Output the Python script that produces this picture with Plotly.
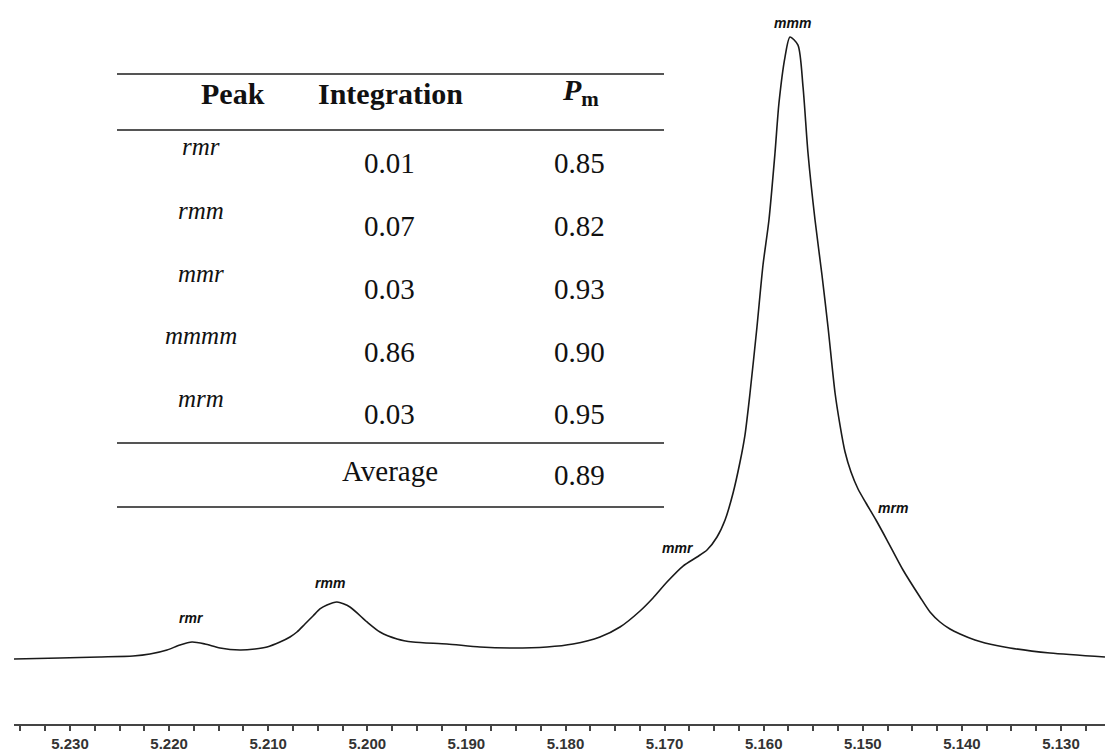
import plotly.graph_objects as go

# ---------------- data ----------------
ppm = [5.23575, 5.23101, 5.22697, 5.22364, 5.22193, 5.22021, 5.21890, 5.21769,
       5.21638, 5.21486, 5.21285, 5.21133, 5.21012, 5.20881, 5.20780, 5.20710,
       5.20629, 5.20548, 5.20478, 5.20407, 5.20306, 5.20175, 5.20003, 5.19872,
       5.19700, 5.19539, 5.19196, 5.18863, 5.18530, 5.18187, 5.17924, 5.17652,
       5.17450, 5.17248, 5.17117, 5.16976, 5.16814, 5.16673, 5.16572, 5.16471,
       5.16390, 5.16309, 5.16239, 5.16189, 5.16138, 5.16068, 5.16007, 5.15947,
       5.15886, 5.15846, 5.15785, 5.15735, 5.15654, 5.15603, 5.15553, 5.15482,
       5.15412, 5.15351, 5.15280, 5.15230, 5.15179, 5.15119, 5.15048, 5.14968,
       5.14867, 5.14756, 5.14594, 5.14423, 5.14322, 5.14221, 5.14120, 5.14019,
       5.13868, 5.13767, 5.13515, 5.13111, 5.12556]
intensity = [0.00, 0.16, 0.32, 0.48, 0.80, 1.45, 2.25, 2.73,
             2.41, 1.77, 1.45, 1.61, 1.93, 2.73, 3.54, 4.34,
             5.63, 6.91, 8.04, 8.68, 9.16, 8.36, 5.95, 4.34,
             3.22, 2.73, 2.41, 1.93, 1.77, 1.93, 2.41, 3.54,
             5.14, 7.72, 9.81, 12.38, 14.95, 16.40, 17.52, 19.61,
             22.35, 26.69, 31.67, 36.01, 42.77, 53.38, 63.34, 70.58,
             81.35, 89.39, 96.78, 100.0, 98.71, 91.96, 81.35, 70.58,
             61.74, 53.38, 42.77, 37.62, 33.28, 30.06, 27.33, 25.08,
             22.35, 19.13, 14.31, 9.97, 7.56, 5.95, 4.82, 4.02,
             3.05, 2.57, 1.77, 0.96, 0.32]

peak_labels = ["rmr", "rmm", "mmr", "mmm", "mrm"]
peak_label_ppm = [5.21769, 5.20376, 5.16865, 5.15714, 5.14695]
peak_label_int = [6.59, 12.22, 17.85, 102.25, 24.28]

table_peaks = ["rmr", "rmm", "mmr", "mmmm", "mrm"]
table_integration = ["0.01", "0.07", "0.03", "0.86", "0.03"]
table_pm = ["0.85", "0.82", "0.93", "0.90", "0.95"]
table_average = "0.89"

# ---------------- layout helpers ----------------
W, H = 1105, 751
ML, MB = 14, 27
PW, PH = W - ML, H - MB


def px(x):
    return (x - ML) / PW


def py(y):
    return 1 - y / PH


fig = go.Figure()
fig.add_trace(go.Scatter(
    x=ppm, y=intensity, mode="lines",
    line=dict(color="#1a1a1a", width=1.6, shape="spline", smoothing=0.7),
    hoverinfo="skip", showlegend=False))

annotations = []
# peak labels
for lab, xv, yv in zip(peak_labels, peak_label_ppm, peak_label_int):
    annotations.append(dict(
        x=xv, y=yv, xref="x", yref="y", text="<b><i>" + lab + "</i></b>",
        showarrow=False, font=dict(family="Liberation Sans", size=14, color="#111"),
        xanchor="center", yanchor="middle"))

serif = "Liberation Serif"


def tab_text(x, y, text, size):
    return dict(x=px(x), y=py(y), xref="paper", yref="paper", text=text,
                showarrow=False, xanchor="center", yanchor="middle",
                font=dict(family=serif, size=size, color="#111"))


# header
annotations.append(tab_text(233, 94, "<b>Peak</b>", 30))
annotations.append(tab_text(390, 94, "<b>Integration</b>", 30))
annotations.append(tab_text(580, 92, "<b><i>P</i><sub>m</sub></b>", 30))

row_y = [163, 226, 289, 352, 414]
for i in range(len(table_peaks)):
    annotations.append(tab_text(201, row_y[i] - 16, "<i>" + table_peaks[i] + "</i>", 25))
    annotations.append(tab_text(389, row_y[i], table_integration[i], 29))
    annotations.append(tab_text(579, row_y[i], table_pm[i], 29))
annotations.append(tab_text(390, 471, "Average", 29))
annotations.append(tab_text(579, 475, table_average, 29))

shapes = []
for yl in [74, 130, 443, 507]:
    shapes.append(dict(type="line", xref="paper", yref="paper",
                       x0=px(117), x1=px(664), y0=py(yl), y1=py(yl),
                       line=dict(color="#555", width=2)))

fig.update_layout(
    width=W, height=H,
    margin=dict(l=ML, r=0, t=0, b=MB, pad=0),
    paper_bgcolor="white", plot_bgcolor="white",
    showlegend=False,
    annotations=annotations, shapes=shapes,
    xaxis=dict(
        range=[5.23565, 5.12556], showgrid=False, zeroline=False,
        showline=True, linecolor="#444", linewidth=1.5,
        ticks="outside", ticklen=5, tickwidth=1.5, tickcolor="#444",
        tick0=5.13, dtick=0.01, tickformat=".3f",
        tickfont=dict(family="Liberation Sans", size=15, color="#333", weight="bold"),
        minor=dict(ticks="outside", ticklen=5, tickwidth=1.5, tickcolor="#444",
                   tick0=5.13, dtick=0.0025, showgrid=False),
        fixedrange=True),
    yaxis=dict(range=[-10.45, 105.95], visible=False, showgrid=False,
               zeroline=False, fixedrange=True),
)

fig.write_html("out.html")
